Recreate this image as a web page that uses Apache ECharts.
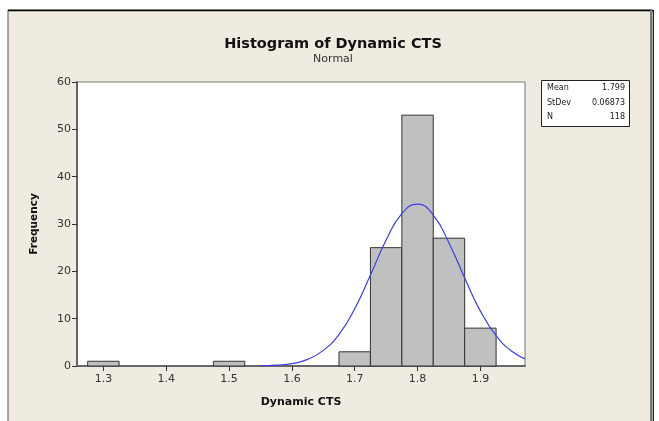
<!DOCTYPE html>
<html>
<head>
<meta charset="utf-8">
<script src="https://cdn.jsdelivr.net/npm/echarts@6/dist/echarts.min.js"></script>
<style>
  html, body { margin: 0; padding: 0; background: #ffffff; }
  #chart { width: 659px; height: 421px; }
</style>
</head>
<body>
<div id="chart"></div>
<script>
// histogram bins (centre, width 0.05) and counts
var binCenters = [1.3, 1.5, 1.7, 1.75, 1.8, 1.85, 1.9];
var binCounts = [1, 1, 3, 25, 53, 27, 8];
var binWidth = 0.05;

// fitted normal curve
var curveX = [1.55, 1.575, 1.6, 1.625, 1.65, 1.675, 1.7, 1.725, 1.75, 1.775, 1.8, 1.825, 1.85, 1.875, 1.9, 1.925, 1.95, 1.971];
var curveY = [0.05, 0.2, 0.5, 1.4, 3.3, 6.7, 12.1, 19.2, 26.6, 32.2, 34.2, 31.9, 26.0, 18.6, 11.6, 6.4, 3.1, 1.5];

var xTicks = [1.3, 1.4, 1.5, 1.6, 1.7, 1.8, 1.9];
var statNames = ['Mean', 'StDev', 'N'];
var statValues = ['1.799', '0.06873', '118'];

var barData = binCenters.map(function (c, i) { return [c - binWidth / 2, c + binWidth / 2, binCounts[i]]; });
var lineData = curveX.map(function (x, i) { return [x, curveY[i]]; });

var statText = [];
statNames.forEach(function (n, i) {
  statText.push({
    type: 'text', left: 547, top: 84 + i * 14.5,
    style: { text: n, font: '8px "DejaVu Sans"', fill: '#222' }
  });
  statText.push({
    type: 'text', right: 659 - 625, top: 84 + i * 14.5,
    style: { text: statValues[i], font: '8px "DejaVu Sans"', fill: '#222', align: 'right' }
  });
});

var myChart = echarts.init(document.getElementById('chart'));
var option = {
  animation: false,
  backgroundColor: '#ffffff',
  graphic: [
    { type: 'rect', z: -10, shape: { x: 8, y: 10, width: 644, height: 420 },
      style: { fill: '#efebe1', stroke: '#555', lineWidth: 1 } },
    { type: 'line', z: -9, shape: { x1: 8, y1: 10.5, x2: 653, y2: 10.5 }, style: { stroke: '#000', lineWidth: 1.5 } },
    { type: 'line', z: -9, shape: { x1: 651, y1: 10, x2: 651, y2: 421 }, style: { stroke: '#777', lineWidth: 2 } },
    { type: 'line', z: -9, shape: { x1: 653.5, y1: 10, x2: 653.5, y2: 421 }, style: { stroke: '#222', lineWidth: 1 } },
    { type: 'rect', shape: { x: 541.5, y: 80.5, width: 88, height: 46 },
      style: { fill: '#ffffff', stroke: '#222', lineWidth: 1 } }
  ].concat(statText),
  title: {
    text: 'Histogram of Dynamic CTS',
    subtext: 'Normal',
    left: 328,
    textAlign: 'center',
    top: 32,
    itemGap: 2,
    textStyle: { fontFamily: 'DejaVu Sans', fontSize: 14.5, fontWeight: 'bold', color: '#111' },
    subtextStyle: { fontFamily: 'DejaVu Sans', fontSize: 11, color: '#333' }
  },
  grid: { left: 77, top: 82, right: 134, bottom: 55, show: true, backgroundColor: '#ffffff', borderColor: '#777', borderWidth: 1 },
  xAxis: {
    type: 'value',
    min: 1.258,
    max: 1.971,
    name: 'Dynamic CTS',
    nameLocation: 'middle',
    nameGap: 31,
    nameTextStyle: { fontFamily: 'DejaVu Sans', fontSize: 11, fontWeight: 'bold', color: '#111' },
    splitLine: { show: false },
    axisLine: { lineStyle: { color: '#666', width: 2 } },
    axisTick: { customValues: xTicks, length: 5, lineStyle: { color: '#333' } },
    axisLabel: { customValues: xTicks, fontFamily: 'DejaVu Sans', fontSize: 11, color: '#333', margin: 8,
      formatter: function (v) { return v.toFixed(1); } }
  },
  yAxis: {
    type: 'value',
    min: 0,
    max: 60,
    interval: 10,
    name: 'Frequency',
    nameLocation: 'middle',
    nameGap: 37,
    nameTextStyle: { fontFamily: 'DejaVu Sans', fontSize: 10.5, fontWeight: 'bold', color: '#111' },
    splitLine: { show: false },
    axisLine: { show: true, lineStyle: { color: '#666', width: 2 } },
    axisTick: { show: true, length: 5, lineStyle: { color: '#333' } },
    axisLabel: { fontFamily: 'DejaVu Sans', fontSize: 11, color: '#333', margin: 6 }
  },
  series: [
    {
      type: 'custom',
      renderItem: function (params, api) {
        var p0 = api.coord([api.value(0), 0]);
        var p1 = api.coord([api.value(1), api.value(2)]);
        return {
          type: 'rect',
          shape: { x: p0[0], y: p1[1], width: p1[0] - p0[0], height: p0[1] - p1[1] },
          style: { fill: '#c0c0c0', stroke: '#333', lineWidth: 1 }
        };
      },
      encode: { x: [0, 1], y: 2 },
      data: barData
    },
    {
      type: 'line',
      data: lineData,
      smooth: true,
      showSymbol: false,
      lineStyle: { color: '#3c3cf0', width: 1.2 },
      z: 5
    }
  ]
};
myChart.setOption(option);
</script>
</body>
</html>
